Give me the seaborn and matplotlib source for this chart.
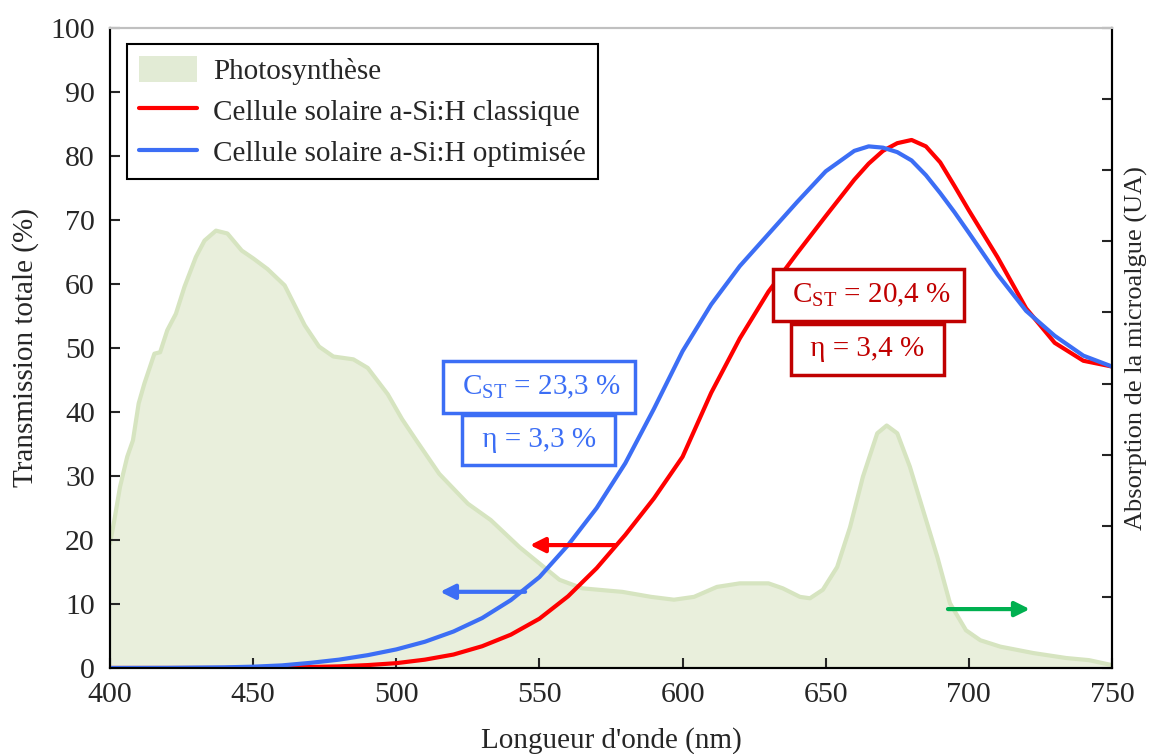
import numpy as np
import pandas as pd
import seaborn as sns
import matplotlib.pyplot as plt
from matplotlib.patches import Patch
from matplotlib.lines import Line2D

# Transmission des cellules (axe gauche, %)
lambda_cell = [400, 420, 440, 450, 460, 470, 480, 490, 500, 510, 520, 530, 540, 550,
               560, 570, 580, 590, 600, 610, 620, 630, 640, 650, 660, 665, 670, 675,
               680, 685, 690, 695, 700, 710, 720, 730, 740, 750]
t_classique = [0, 0, 0, 0.05, 0.1, 0.15, 0.25, 0.45, 0.75, 1.3, 2.1, 3.4, 5.2, 7.7,
               11.2, 15.6, 20.8, 26.5, 33.0, 43.0, 51.5, 58.8, 64.8, 70.6, 76.3, 78.8, 80.8, 82.0,
               82.5, 81.5, 79.0, 75.3, 71.5, 64.2, 56.2, 50.8, 48.0, 47.1]
t_optimisee = [0, 0.02, 0.1, 0.2, 0.4, 0.8, 1.3, 2.0, 2.9, 4.1, 5.7, 7.8, 10.6, 14.2,
               19.2, 25.0, 32.0, 40.5, 49.5, 56.8, 62.8, 67.8, 72.8, 77.6, 80.8, 81.5, 81.3, 80.6,
               79.3, 77.0, 74.2, 71.2, 68.0, 61.5, 55.8, 51.9, 48.8, 47.1]

# Absorption de la microalgue (axe droit, UA)
lambda_photo = [400, 401.5, 403.5, 406, 408, 410, 412, 415.5, 417.5, 420, 423, 426, 430,
                433, 437, 441, 446, 450, 455, 461, 468, 473, 478, 485, 490, 497, 502, 507,
                515, 525, 533, 543, 550, 557, 565, 579, 589, 597, 604, 612, 620, 630, 635,
                641, 644.5, 649, 654, 658.5, 663, 668, 671.3, 675, 679.4, 684, 689, 693.4,
                699, 704, 711, 722.5, 734, 742, 750]
abs_photo = [17.5, 20.8, 25.5, 29.7, 32.0, 37.2, 40.0, 44.2, 44.4, 47.5, 49.8, 53.6, 57.8,
             60.1, 61.5, 61.1, 58.7, 57.6, 56.1, 53.8, 48.2, 45.2, 43.8, 43.4, 42.2, 38.5, 35.0, 32.0,
             27.3, 23.1, 20.8, 17.0, 14.7, 12.4, 11.2, 10.7, 10.0, 9.6, 10.0, 11.4, 11.9, 11.9, 11.2,
             10.0, 9.8, 11.0, 14.2, 19.8, 26.9, 33.0, 34.1, 33.0, 28.3, 22.2, 15.6, 9.1,
             5.3, 3.9, 3.0, 2.1, 1.4, 1.1, 0.4]

df = pd.DataFrame({
    'lambda': lambda_cell * 2,
    'T': t_classique + t_optimisee,
    'cellule': ['Cellule solaire a-Si:H classique'] * len(lambda_cell)
               + ['Cellule solaire a-Si:H optimisée'] * len(lambda_cell),
})

rouge = '#ff0000'
bleu = '#3c6ef5'
rouge_fonce = '#c00000'
vert_fill = '#e9efdc'
vert_bord = '#d6e4c0'

sns.set_style('ticks')
plt.rcParams['font.family'] = ['Liberation Serif', 'DejaVu Serif']
plt.rcParams['mathtext.fontset'] = 'custom'
plt.rcParams['mathtext.rm'] = 'Liberation Serif'

fig = plt.figure(figsize=(11.51, 7.54), dpi=100)
ax = fig.add_axes([0.0956, 0.1141, 0.8705, 0.8488])
ax2 = ax.twinx()

# Absorption (derrière)
ax2.fill_between(lambda_photo, abs_photo, 0, color=vert_fill, lw=0)
ax2.plot(lambda_photo, abs_photo, color=vert_bord, lw=3)
ax2.set_ylim(0, 90)
ax2.set_yticks(np.arange(0, 91, 10))
ax2.set_yticklabels([])
ax2.tick_params(axis='y', direction='in', length=7, width=1.5)
ax2.set_ylabel('Absorption de la microalgue (UA)', fontsize=19, labelpad=6)

ax.set_zorder(ax2.get_zorder() + 1)
ax.patch.set_visible(False)

sns.lineplot(data=df, x='lambda', y='T', hue='cellule', palette=[rouge, bleu],
             lw=3, ax=ax, legend=False)

ax.set_xlim(400, 750)
ax.set_ylim(0, 100)
ax.set_xticks(np.arange(400, 751, 50))
ax.set_yticks(np.arange(0, 101, 10))
ax.tick_params(direction='in', length=7, width=1.5, labelsize=21.5)
ax.tick_params(axis='y', pad=11)
ax.tick_params(axis='x', pad=10)
ax.set_xlabel("Longueur d'onde (nm)", fontsize=21, labelpad=14)
ax.set_ylabel('Transmission totale (%)', fontsize=21, labelpad=8)

for a in (ax, ax2):
    for s in ('left', 'right', 'bottom'):
        a.spines[s].set_linewidth(1.5)
        a.spines[s].set_color('black')
    a.spines['top'].set_color('#c0c0c0')
    a.spines['top'].set_linewidth(1.5)

# Rendements
box = dict(boxstyle='square,pad=0.42', fc='white', lw=2.5)
ax.text(549.8, 43.9, r' C$_{\mathrm{ST}}$ = 23,3 % ', color=bleu, fontsize=21, ha='center', va='center',
        bbox=dict(box, ec=bleu))
ax.text(549.8, 35.6, r' η = 3,3 % ', color=bleu, fontsize=21, ha='center', va='center',
        bbox=dict(box, ec=bleu))
ax.text(664.9, 58.3, r' C$_{\mathrm{ST}}$ = 20,4 % ', color=rouge_fonce, fontsize=21, ha='center', va='center',
        bbox=dict(box, ec=rouge_fonce))
ax.text(664.6, 49.8, r' η = 3,4 % ', color=rouge_fonce, fontsize=21, ha='center', va='center',
        bbox=dict(box, ec=rouge_fonce))

# Flèches vers les axes
fleche = dict(arrowstyle='-|>', lw=3, mutation_scale=22, shrinkA=0, shrinkB=0)
ax.annotate('', xy=(546.7, 19.2), xytext=(576.4, 19.2), arrowprops=dict(fleche, color=rouge))
ax.annotate('', xy=(515.3, 11.9), xytext=(545.0, 11.9), arrowprops=dict(fleche, color=bleu))
ax.annotate('', xy=(721.3, 9.2), xytext=(692.7, 9.2), arrowprops=dict(fleche, color='#00b050'))

handles = [Patch(color='#e2ebd5', lw=0, label='Photosynthèse'),
           Line2D([], [], color=rouge, lw=3, label='Cellule solaire a-Si:H classique'),
           Line2D([], [], color=bleu, lw=3, label='Cellule solaire a-Si:H optimisée')]
leg = ax.legend(handles=handles, loc='upper left', bbox_to_anchor=(0.017, 0.975), borderaxespad=0,
                fontsize=21, fancybox=False, framealpha=1, edgecolor='black', handlelength=2.0,
                handleheight=1.0, handletextpad=0.55, labelspacing=0.42, borderpad=0.4)
leg.get_frame().set_linewidth(1.5)

plt.savefig('out.png', dpi=100)
